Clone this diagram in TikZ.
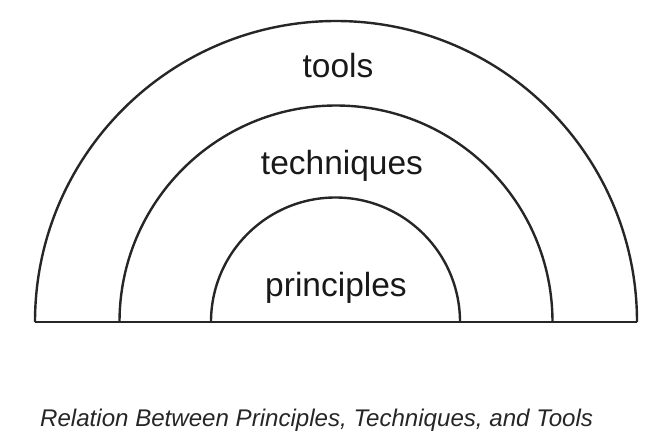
\documentclass[tikz,border=0pt]{standalone}
\usepackage{fontspec}
\setmainfont{Liberation Sans}
\begin{document}
\begin{tikzpicture}[x=1pt,y=-1pt,
  arcline/.style={line width=2.4pt, draw=black!85},
  lbl/.style={font=\fontsize{33.5}{38}\selectfont, text=black!90, anchor=base, inner sep=0pt},
  captext/.style={font=\fontsize{24.1}{28}\selectfont\itshape, text=black!85, anchor=base west, inner sep=0pt}]
\useasboundingbox (0,0) rectangle (656,434);
\coordinate (l1) at (35,322);
\coordinate (r1) at (637,322);
\draw[arcline] (35,322) arc[start angle=180, end angle=360, radius=301];
\draw[arcline] (119.5,322) arc[start angle=180, end angle=360, radius=216.5];
\draw[arcline] (211,322) arc[start angle=180, end angle=360, radius=124.5];
\draw[arcline] (l1) -- (r1);
\node[lbl] (tools) at (338,77) {tools};
\node[lbl] (tech) at (342,174) {techniques};
\node[lbl] (prin) at (336,296) {principles};
\node[captext] (caption) at (40,426) {Relation Between Principles, Techniques, and Tools};
\end{tikzpicture}
\end{document}
